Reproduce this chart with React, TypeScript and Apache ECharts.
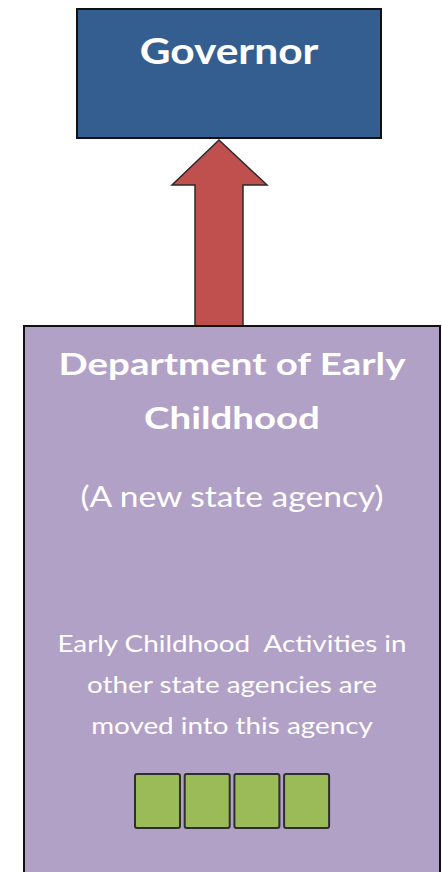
import React, { useEffect, useRef } from "react";
import * as echarts from "echarts";

const topBoxLabel = ["Governor"];
const titleLines = ["Department of Early", "Childhood"];
const subtitleLines = ["(A new state agency)"];
const noteLines = [
  "Early Childhood  Activities in",
  "other state agencies are",
  "moved into this agency",
];
const activityBlocks = ["A", "B", "C", "D"];

const FONT = "Lato, 'Open Sans', sans-serif";

export default function App() {
  const ref = useRef<HTMLDivElement>(null);
  useEffect(() => {
    if (!ref.current) return;
    const chart = echarts.init(ref.current, null, { renderer: "svg" });
    const elements: any[] = [];
    const txt = (text: string, x: number, y: number, font: string, sx: number) => ({
      type: "text",
      x,
      y,
      scaleX: sx,
      style: {
        text,
        fill: "#ffffff",
        font,
        textAlign: "center",
        textVerticalAlign: "middle",
      },
    });
    // Governor box
    elements.push({
      type: "rect",
      shape: { x: 77, y: 9, width: 304, height: 129 },
      style: { fill: "#355E90", stroke: "#111", lineWidth: 2 },
    });
    elements.push(txt(topBoxLabel[0], 229, 50, `bold 36px ${FONT}`, 1.18));
    // Arrow
    elements.push({
      type: "polygon",
      shape: {
        points: [
          [219, 140],
          [267, 185],
          [243, 185],
          [243, 326],
          [195, 326],
          [195, 185],
          [172, 185],
        ],
      },
      style: { fill: "#C0504D", stroke: "#2a2a2a", lineWidth: 1.5 },
    });
    // Department box
    elements.push({
      type: "rect",
      shape: { x: 24, y: 326, width: 416, height: 560 },
      style: { fill: "#B2A1C7", stroke: "#111", lineWidth: 2 },
    });
    const titleY = [363, 417];
    titleLines.forEach((t, i) => {
      elements.push(txt(t, 232, titleY[i], `bold 31px ${FONT}`, 1.24));
    });
    subtitleLines.forEach((t) => {
      elements.push(txt(t, 232, 496, `28px ${FONT}`, 1.2));
    });
    const noteY = [643, 684, 725];
    noteLines.forEach((t, i) => {
      elements.push(txt(t, 232, noteY[i], `23px ${FONT}`, 1.21));
    });
    activityBlocks.forEach((_, i) => {
      elements.push({
        type: "rect",
        shape: { x: 135 + i * 49.7, y: 774, width: 45, height: 54, r: 2 },
        style: { fill: "#9BBB59", stroke: "#2e2e2e", lineWidth: 2 },
      });
    });
    chart.setOption({
      animation: false,
      backgroundColor: "#ffffff",
      graphic: { elements },
    });
    return () => chart.dispose();
  }, []);
  return (
    <div
      ref={ref}
      style={{ position: "fixed", left: 0, top: 0, width: 442, height: 872 }}
    />
  );
}
